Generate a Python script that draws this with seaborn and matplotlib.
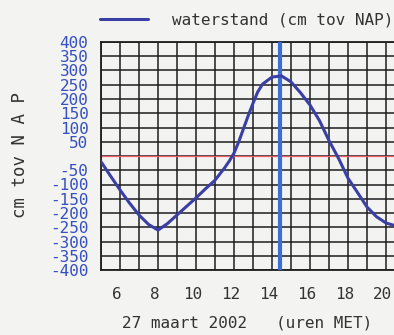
import matplotlib
matplotlib.use("Agg")
import matplotlib.pyplot as plt
import matplotlib.transforms as mtransforms
import seaborn as sns
import pandas as pd

# data
hours = [5.0, 5.5, 6.0, 6.5, 7.0, 7.5, 8.0, 8.5, 9.0, 9.5, 10.0, 10.5, 11.0, 11.5,
         11.75, 12.0, 12.25, 12.5, 12.75, 13.0, 13.25, 13.5, 14.0, 14.5, 15.0, 15.5,
         16.0, 16.5, 17.0, 17.5, 18.0, 18.5, 19.0, 19.5, 20.0, 20.5, 21.0]
waterstand = [-20, -70, -119, -165, -207, -240, -260, -237, -207, -177, -147, -115, -85, -42,
              -18, 10, 50, 96, 142, 185, 225, 252, 277, 281, 260, 222,
              179, 124, 54, -8, -78, -128, -179, -213, -235, -245, -250]
now_hour = 14.4
x_ticks = list(range(5, 22))
x_labels = ["", "6", "", "8", "", "10", "", "12", "", "14", "", "16", "", "18", "", "20", ""]
y_ticks = list(range(-400, 401, 50))
y_labels = ["-400", "-350", "-300", "-250", "-200", "-150", "-100", "-50", "",
            "50", "100", "150", "200", "250", "300", "350", "400"]
legend_label = "waterstand (cm tov NAP)"
y_title = "cm tov N A P"
x_title = "27 maart 2002   (uren MET)"

df = pd.DataFrame({"uur": hours, "waterstand": waterstand})

sns.set_style("white")
plt.rcParams["font.family"] = ["DejaVu Sans Mono", "DejaVu Sans"]

bg = "#f3f3f1"
fig = plt.figure(figsize=(3.94, 3.35), dpi=100, facecolor=bg)
ax = fig.add_axes([101 / 394, 65 / 335, 304 / 394, 228 / 335])
ax.set_facecolor(bg)

ax.axhline(0, color="#f0606a", lw=0.9, zorder=2)
ax.axvline(now_hour, color="#3b6fd6", lw=3.0, zorder=3)
sns.lineplot(data=df, x="uur", y="waterstand", ax=ax, color="#3a3fa6", lw=2.2,
             zorder=4, label=legend_label, legend=False)

ax.set_xlim(5, 21)
ax.set_ylim(-400, 400)
ax.set_xticks(x_ticks)
ax.set_xticklabels(x_labels, fontsize=11.5, color="#333333")
ax.set_yticks(y_ticks)
ax.set_yticklabels(y_labels, fontsize=11.5, color="#3550c0")
ax.tick_params(axis="both", length=0)
ax.tick_params(axis="x", pad=12)
ax.tick_params(axis="y", pad=9)
shift = mtransforms.ScaledTranslation(-3 / 100, 0, fig.dpi_scale_trans)
for lbl in ax.get_xticklabels():
    lbl.set_transform(lbl.get_transform() + shift)
ax.grid(True, color="#1e1e1e", lw=1.1, zorder=1)
ax.set_axisbelow(True)
for s in ax.spines.values():
    s.set_color("#1e1e1e")
    s.set_linewidth(1.3)

ax.set_xlabel(x_title, fontsize=11.5, color="#333333")
ax.xaxis.set_label_coords((247 - 101) / 304, (270 - 315) / 228)
ax.set_ylabel(y_title, fontsize=12.5, color="#333333")
ax.yaxis.set_label_coords((29 - 101) / 304, (270 - 155) / 228)

handles, labels = ax.get_legend_handles_labels()
fig.legend(handles, labels, loc="center left", bbox_to_anchor=(100 / 394, 1 - 20 / 335),
           frameon=False, fontsize=11.5, handlelength=3.0, handletextpad=1.5,
           borderpad=0, borderaxespad=0, labelcolor="#333333")

fig.savefig("out.png", dpi=100, facecolor=bg)
